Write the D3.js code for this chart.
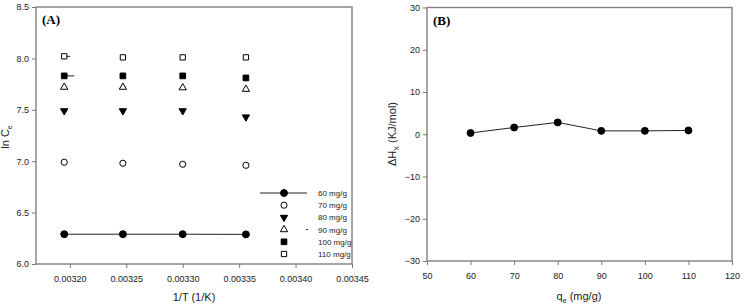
<!DOCTYPE html>
<html lang="en">
  <head>
    <meta charset="UTF-8" />
    <title>ln Ce vs 1/T and isosteric heat</title>
    <script src="https://d3js.org/d3.v7.min.js"></script>
    <style>
      body { margin: 0; background: #fff; }
      svg { display: block; font-family: "Liberation Sans", Arial, sans-serif; }
      .tick text { fill: #222; font-size: 9px; }
      .tick line { stroke: #777; }
    </style>
  </head>
  <body>
    <script>
      // panel A: 1/T values and ln Ce for each loading
      const invT = [0.003195, 0.003247, 0.0033, 0.003356];
      const loadings = ["60 mg/g", "70 mg/g", "80 mg/g", "90 mg/g", "100 mg/g", "110 mg/g"];
      const lnCe60 = [6.29, 6.29, 6.29, 6.288];
      const lnCe70 = [6.99, 6.98, 6.97, 6.96];
      const lnCe80 = [7.49, 7.49, 7.49, 7.43];
      const lnCe90 = [7.72, 7.72, 7.715, 7.7];
      const lnCe100 = [7.83, 7.83, 7.83, 7.81];
      const lnCe110 = [8.02, 8.01, 8.01, 8.01];
      const xTicksA = [0.0032, 0.00325, 0.0033, 0.00335, 0.0034, 0.00345];
      const yTicksA = [6.0, 6.5, 7.0, 7.5, 8.0, 8.5];

      // panel B: heat of adsorption vs loading
      const qe = [60, 70, 80, 90, 100, 110];
      const dH = [0.3, 1.6, 2.8, 0.8, 0.8, 0.9];
      const xTicksB = [50, 60, 70, 80, 90, 100, 110, 120];
      const yTicksB = [-30, -20, -10, 0, 10, 20, 30];

      const svg = d3.select("body").append("svg")
        .attr("width", 742).attr("height", 308);

      const axisCol = "#808080";

      // marker styles per loading
      const markers = [
        { type: d3.symbolCircle, size: 38, fill: "#000", rot: 0 },
        { type: d3.symbolCircle, size: 30, fill: "#fff", rot: 0 },
        { type: d3.symbolTriangle, size: 23, fill: "#000", rot: 180 },
        { type: d3.symbolTriangle, size: 23, fill: "#fff", rot: 0 },
        { type: d3.symbolSquare, size: 32, fill: "#000", rot: 0 },
        { type: d3.symbolSquare, size: 28, fill: "#fff", rot: 0 },
      ];
      const seriesA = [lnCe60, lnCe70, lnCe80, lnCe90, lnCe100, lnCe110];

      function frame(g, w, h) {
        g.append("rect").attr("width", w).attr("height", h)
          .attr("fill", "none").attr("stroke", axisCol).attr("stroke-width", 1.4);
      }

      function drawMarker(g, m, x, y) {
        g.append("path")
          .attr("d", d3.symbol().type(m.type).size(m.size)())
          .attr("transform", `translate(${x},${y}) rotate(${m.rot})`)
          .attr("fill", m.fill).attr("stroke", "#000").attr("stroke-width", 1);
      }

      // ---------- panel A ----------
      const A = { left: 36, top: 7, width: 316, height: 257 };
      const gA = svg.append("g").attr("transform", `translate(${A.left},${A.top})`);
      const xA = d3.scaleLinear().domain([0.00317, 0.00345]).range([0, A.width]);
      const yA = d3.scaleLinear().domain([6.0, 8.5]).range([A.height, 0]);

      gA.append("g").attr("transform", `translate(0,${A.height})`)
        .call(d3.axisBottom(xA).tickValues(xTicksA).tickFormat(d3.format(".5f")).tickSize(4).tickSizeOuter(0).tickPadding(8))
        .call(g => g.select(".domain").remove());
      gA.append("g")
        .call(d3.axisLeft(yA).tickValues(yTicksA).tickFormat(d3.format(".1f")).tickSize(4).tickSizeOuter(0).tickPadding(3))
        .call(g => g.select(".domain").remove());
      frame(gA, A.width, A.height);

      // only the 60 mg/g set is joined by a line
      gA.append("path").datum(lnCe60)
        .attr("d", d3.line().x((d, i) => xA(invT[i])).y(d => yA(d)))
        .attr("fill", "none").attr("stroke", "#222").attr("stroke-width", 1);

      // small stray strokes beside the first 100 and 110 points
      gA.append("line")
        .attr("x1", xA(invT[0])).attr("x2", xA(invT[0]) + 10)
        .attr("y1", yA(lnCe100[0])).attr("y2", yA(lnCe100[0]))
        .attr("stroke", "#222").attr("stroke-width", 1);
      gA.append("line")
        .attr("x1", xA(invT[0])).attr("x2", xA(invT[0]) + 6)
        .attr("y1", yA(lnCe110[0])).attr("y2", yA(lnCe110[0]))
        .attr("stroke", "#222").attr("stroke-width", 1);

      seriesA.forEach((s, k) => {
        s.forEach((v, i) => drawMarker(gA, markers[k], xA(invT[i]), yA(v)));
      });

      gA.append("text").attr("x", 6).attr("y", 17)
        .attr("font-family", "Liberation Serif, Times New Roman, serif")
        .attr("font-weight", "bold").attr("font-size", 13).text("(A)");

      // legend
      const leg = gA.append("g").attr("transform", "translate(224,186)");
      loadings.forEach((name, k) => {
        const y = k * 12.2;
        if (k === 0) {
          leg.append("line").attr("x1", 0).attr("x2", 47).attr("y1", y).attr("y2", y)
            .attr("stroke", "#222").attr("stroke-width", 1);
        }
        if (k === 3) {
          leg.append("line").attr("x1", 46).attr("x2", 48).attr("y1", y).attr("y2", y)
            .attr("stroke", "#222").attr("stroke-width", 1);
        }
        drawMarker(leg, markers[k], 24, y);
        leg.append("text").attr("x", 58).attr("y", y + 3)
          .attr("font-size", 8).attr("fill", "#222").text(name);
      });

      svg.append("text").attr("x", 194).attr("y", 301)
        .attr("text-anchor", "middle").attr("font-size", 11).attr("fill", "#222")
        .text("1/T (1/K)");
      const yl = svg.append("text")
        .attr("transform", "translate(9,137) rotate(-90)")
        .attr("text-anchor", "middle").attr("font-size", 11).attr("fill", "#222");
      yl.append("tspan").text("ln C");
      yl.append("tspan").attr("font-size", 7).attr("dy", 3).text("e");

      // ---------- panel B ----------
      const B = { left: 427, top: 7.5, width: 305, height: 253.5 };
      const gB = svg.append("g").attr("transform", `translate(${B.left},${B.top})`);
      const xB = d3.scaleLinear().domain([50, 120]).range([0, B.width]);
      const yB = d3.scaleLinear().domain([-30, 30]).range([B.height, 0]);

      gB.append("g").attr("transform", `translate(0,${B.height})`)
        .call(d3.axisBottom(xB).tickValues(xTicksB).tickSize(4).tickSizeOuter(0).tickPadding(8))
        .call(g => g.select(".domain").remove());
      gB.append("g")
        .call(d3.axisLeft(yB).tickValues(yTicksB).tickSize(4).tickSizeOuter(0).tickPadding(3))
        .call(g => g.select(".domain").remove());
      frame(gB, B.width, B.height);

      gB.append("path").datum(dH)
        .attr("d", d3.line().x((d, i) => xB(qe[i])).y(d => yB(d)))
        .attr("fill", "none").attr("stroke", "#222").attr("stroke-width", 1);
      dH.forEach((v, i) => drawMarker(gB, markers[0], xB(qe[i]), yB(v)));

      gB.append("text").attr("x", 6).attr("y", 17)
        .attr("font-family", "Liberation Serif, Times New Roman, serif")
        .attr("font-weight", "bold").attr("font-size", 13).text("(B)");

      const xlB = svg.append("text").attr("x", 579).attr("y", 300)
        .attr("text-anchor", "middle").attr("font-size", 11).attr("fill", "#222");
      xlB.append("tspan").text("q");
      xlB.append("tspan").attr("font-size", 7).attr("dy", 3).text("e");
      xlB.append("tspan").attr("dy", -3).text(" (mg/g)");

      const ylB = svg.append("text")
        .attr("transform", "translate(396,134) rotate(-90)")
        .attr("text-anchor", "middle").attr("font-size", 11).attr("fill", "#222");
      ylB.append("tspan").text("\u0394H");
      ylB.append("tspan").attr("font-size", 7).attr("dy", 3).text("X");
      ylB.append("tspan").attr("dy", -3).text(" (KJ/mol)");
    </script>
  </body>
</html>
